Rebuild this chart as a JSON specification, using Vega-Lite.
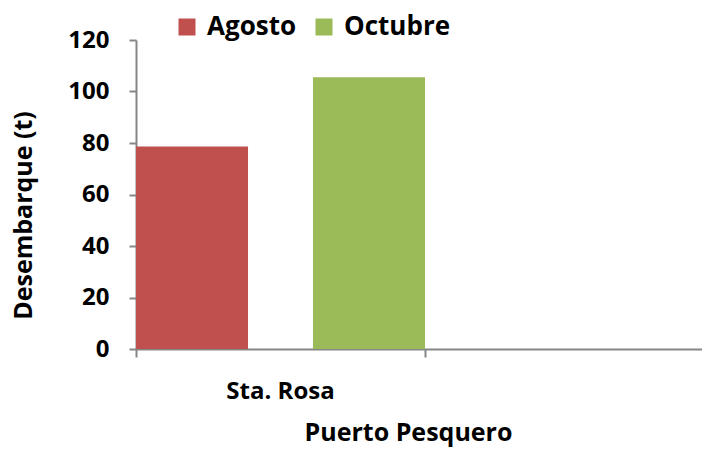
{
  "$schema": "https://vega.github.io/schema/vega-lite/v6.json",
  "autosize": "none",
  "width": 578,
  "height": 309,
  "padding": {"left": 136, "top": 40, "right": 0, "bottom": 101},
  "background": "white",
  "config": {"view": {"stroke": null}, "font": "Open Sans"},
  "data": {"values": [
    {"puerto": "Sta. Rosa", "mes": "Agosto", "t": 78.6},
    {"puerto": "Sta. Rosa", "mes": "Octubre", "t": 105.5}
  ]},
  "mark": {"type": "bar"},
  "encoding": {
    "x": {
      "field": "puerto", "type": "nominal",
      "scale": {"domain": ["Sta. Rosa", " "], "paddingInner": 0, "paddingOuter": 0},
      "axis": {
        "title": "Puerto Pesquero", "labelAngle": 0, "bandPosition": 0,
        "domainColor": "#868686", "domainWidth": 2, "tickColor": "#868686", "tickWidth": 2, "tickSize": 8,
        "labelFont": "Open Sans", "labelFontSize": 24, "labelFontWeight": "bold", "labelColor": "#000000", "labelPadding": 22,
        "titleFont": "Open Sans", "titleFontSize": 25, "titleFontWeight": "bold", "titleColor": "#000000",
        "titleX": 272, "titlePadding": 17
      }
    },
    "xOffset": {
      "field": "mes", "type": "nominal",
      "scale": {"domain": ["Agosto", "Octubre"], "paddingInner": 0.367, "paddingOuter": 0}
    },
    "y": {
      "field": "t", "type": "quantitative",
      "scale": {"domain": [0, 120], "nice": false},
      "axis": {
        "title": "Desembarque (t)", "values": [0, 20, 40, 60, 80, 100, 120], "grid": false,
        "domainColor": "#868686", "domainWidth": 2, "tickColor": "#868686", "tickWidth": 2, "tickSize": 7,
        "labelFont": "Open Sans", "labelFontSize": 24, "labelFontWeight": "bold", "labelColor": "#000000", "labelPadding": 20,
        "titleFont": "Open Sans", "titleFontSize": 25, "titleFontWeight": "bold", "titleColor": "#000000",
        "titleX": -100, "titleY": 175
      }
    },
    "color": {
      "field": "mes", "type": "nominal",
      "scale": {"domain": ["Agosto", "Octubre"], "range": ["#C0504D", "#9BBB59"]},
      "legend": {
        "title": null, "orient": "none", "direction": "horizontal", "legendX": 38, "legendY": -26,
        "padding": 0, "symbolType": "square", "symbolSize": 289, "symbolStrokeWidth": 0,
        "labelFont": "Open Sans", "labelFontSize": 26, "labelFontWeight": "bold", "labelColor": "#000000",
        "labelOffset": 7, "columnPadding": 14
      }
    }
  }
}
